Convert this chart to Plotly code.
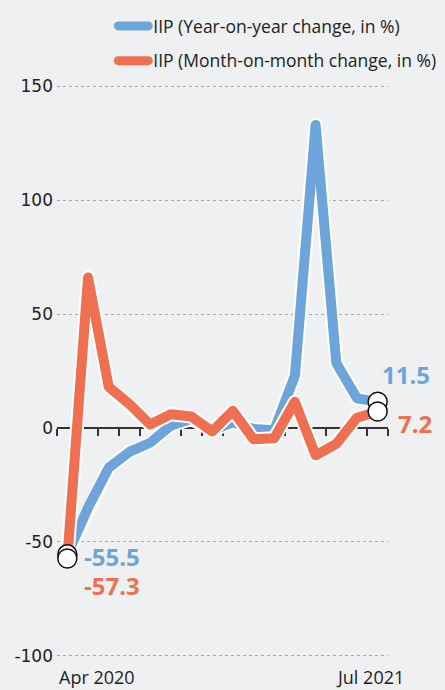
import plotly.graph_objects as go

months = ["Apr 2020", "May 2020", "Jun 2020", "Jul 2020", "Aug 2020", "Sep 2020",
          "Oct 2020", "Nov 2020", "Dec 2020", "Jan 2021", "Feb 2021", "Mar 2021",
          "Apr 2021", "May 2021", "Jun 2021", "Jul 2021"]
yoy = [-55.5, -35.0, -17.5, -10.5, -6.5, 1.0, 4.0, -1.0, 2.5, -0.5, -1.0, 23.0,
       133.0, 28.5, 13.0, 11.5]
mom = [-57.3, 66.0, 18.0, 10.5, 1.5, 6.0, 5.0, -1.5, 7.5, -5.0, -4.5, 11.5,
       -12.0, -7.0, 4.5, 7.2]
y_ticks = [-100, -50, 0, 50, 100, 150]
x_labels = ["Apr 2020", "Jul 2021"]
names = ["IIP (Year-on-year change, in %)", "IIP (Month-on-month change, in %)"]

BLUE = "#6da5da"
ORANGE = "#ee7051"
BG = "#eef0f1"
FONT = "Open Sans"
TICKFONT = "DejaVu Sans"

idx = list(range(len(months)))

fig = go.Figure()
for vals, col, name, grp in [(yoy, BLUE, names[0], "a"), (mom, ORANGE, names[1], "b")]:
    fig.add_trace(go.Scatter(x=idx, y=vals, mode="lines",
                             line=dict(color="white", width=14),
                             showlegend=False, hoverinfo="skip"))
    fig.add_trace(go.Scatter(x=idx, y=vals, mode="lines", name=name,
                             legendgroup=grp,
                             line=dict(color=col, width=10)))

# end-point circles
for vals in [yoy, mom]:
    fig.add_trace(go.Scatter(x=[idx[0], idx[-1]], y=[vals[0], vals[-1]], mode="markers",
                             marker=dict(size=19, color="white",
                                         line=dict(color="#111", width=1.5)),
                             showlegend=False, hoverinfo="skip"))

def lab(i, vals, col, xs, ys):
    fig.add_annotation(x=idx[i], y=vals[i], xref="x", yref="y",
                       text=f"<b>{vals[i]:g}</b>", showarrow=False,
                       xanchor="left", yanchor="middle", xshift=xs, yshift=ys,
                       font=dict(family=FONT, size=24, color=col))

lab(-1, yoy, BLUE, 2, 27)
lab(-1, mom, ORANGE, 18, -12)
lab(0, yoy, BLUE, 15, -2)
lab(0, mom, ORANGE, 15, -27)

ymin, ymax = -101, 151
top_px, bot_px = 84, 32
plot_h = 690 - top_px - bot_px

def paper_y(px_from_top):
    return (690 - bot_px - px_from_top) / plot_h

fig.add_annotation(x=idx[0] - 0.5, y=paper_y(677), xref="x", yref="paper",
                   text=x_labels[0], showarrow=False, xanchor="left", yanchor="middle",
                   font=dict(family=FONT, size=18, color="#222"))
fig.add_annotation(x=idx[-1], y=paper_y(677), xref="x", yref="paper",
                   text=x_labels[1], showarrow=False, xanchor="center", yanchor="middle",
                   xshift=-8, font=dict(family=FONT, size=18, color="#222"))

fig.update_layout(
    width=445, height=690,
    margin=dict(l=57, r=57, t=top_px, b=bot_px, autoexpand=False),
    paper_bgcolor=BG, plot_bgcolor=BG,
    font=dict(family=FONT, color="#222"),
    showlegend=True,
    legend=dict(x=0.17, y=paper_y(8), xanchor="left", yanchor="top",
                bgcolor="rgba(0,0,0,0)", font=dict(size=17.5, color="#222"),
                traceorder="grouped", tracegroupgap=9, itemwidth=30),
    xaxis=dict(range=[-0.5, len(months) - 0.5], showgrid=False, zeroline=False,
               anchor="free", position=(0 - ymin) / (ymax - ymin),
               showline=True, linecolor="#333", linewidth=1.5,
               ticks="outside", ticklen=7, tickwidth=1.5, tickcolor="#333",
               tickvals=[i - 0.5 for i in range(len(months) + 1)],
               showticklabels=False, layer="below traces", fixedrange=True,
               automargin=False),
    yaxis=dict(range=[ymin, ymax], tickvals=y_ticks,
               ticktext=[str(v) for v in y_ticks], showgrid=True,
               gridcolor="#a8a8a8", griddash="dot", gridwidth=1,
               zeroline=False, showline=False, ticks="", ticklabelstandoff=3,
               tickfont=dict(family=TICKFONT, size=17, color="#222"),
               layer="below traces", fixedrange=True, automargin=False),
)

post = """
document.body.style.margin='0';
document.querySelectorAll('.scatterlayer .js-line').forEach(function(p){
  p.style.strokeLinejoin='round'; p.style.strokeLinecap='round';
});
document.querySelectorAll('.legend .js-line').forEach(function(p){
  p.style.strokeWidth='9px'; p.style.strokeLinecap='round';
});
"""
fig.write_html("out.html", post_script=post, config={"displayModeBar": False})
